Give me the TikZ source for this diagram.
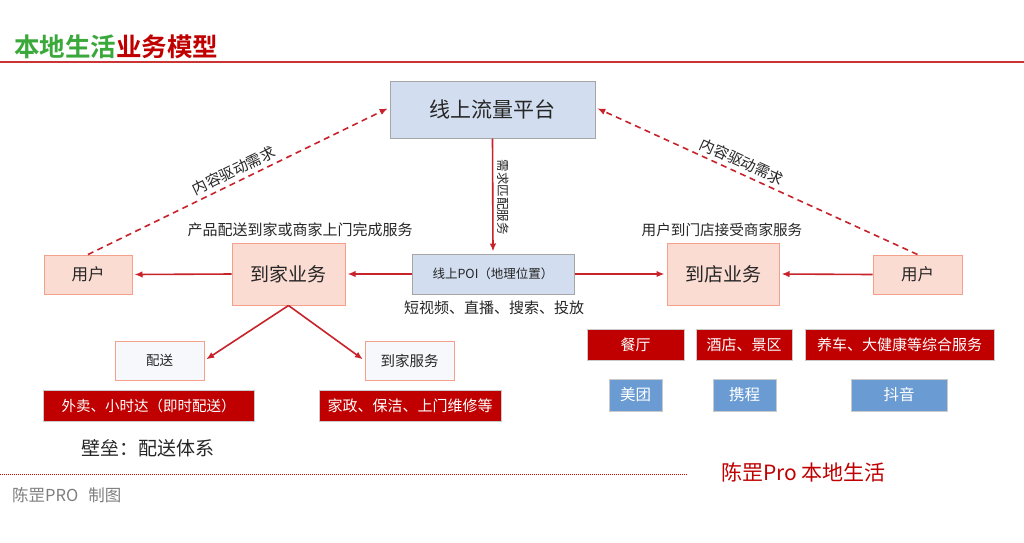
\documentclass[tikz,border=0pt]{standalone}
\usepackage{fontspec}
\setmainfont{Noto Sans CJK SC}[BoldFont={Noto Sans CJK SC Bold}]
\usetikzlibrary{arrows.meta}
\definecolor{titlegreen}{HTML}{3AA83A}
\definecolor{darkred}{HTML}{C00000}
\definecolor{linered}{HTML}{C8232B}
\definecolor{salmonfill}{HTML}{FBDCD3}
\definecolor{salmonline}{HTML}{F4A08A}
\definecolor{lightblue}{HTML}{D2DEEF}
\definecolor{boxgray}{HTML}{A6A6A6}
\definecolor{midblue}{HTML}{6A9BD3}
\definecolor{paleblue}{HTML}{F6F8FC}
\definecolor{txt}{HTML}{262626}
\definecolor{footgray}{HTML}{7F7F7F}
\tikzset{
  box/.style={draw, line width=1pt, inner sep=0pt, align=center, text=txt},
  bluebox/.style={box, fill=lightblue, draw=boxgray},
  salbox/.style={box, fill=salmonfill, draw=salmonline},
  palebox/.style={box, fill=paleblue, draw=salmonline},
  redbox/.style={box, fill=darkred, draw=boxgray!60, line width=0.8pt, text=white},
  midbox/.style={box, fill=midblue, draw=boxgray!60, line width=0.8pt, text=white},
  arr/.style={draw=linered, line width=1.6pt, -{Latex[length=8pt,width=6.5pt]}, shorten >=2pt},
  darr/.style={arr, dash pattern=on 6pt off 4.5pt},
  lbl/.style={text=txt, inner sep=1pt},
}
\begin{document}
\begin{tikzpicture}[x=1pt,y=-1pt]
\useasboundingbox (0,0) rectangle (1024,542);
\fill[white] (0,0) rectangle (1024,542);
% title
\node[anchor=west, inner sep=0pt, font=\fontsize{25.5}{28}\selectfont\bfseries] (title) at (14,47) {\textcolor{titlegreen}{本地生活}\textcolor{darkred}{业务模型}};
\draw[draw=red!75!black!80, line width=2pt] (0,62) -- (1024,62);
% main nodes
\node[bluebox, minimum width=205pt, minimum height=57pt, font=\fontsize{21}{24}\selectfont] (plat) at (492.5,109.5) {线上流量平台};
\node[bluebox, minimum width=162pt, minimum height=40pt, font=\fontsize{12.5}{14}\selectfont] (poi) at (493,274) {线上POI（地理位置）};
\node[salbox, minimum width=113pt, minimum height=62pt, font=\fontsize{19}{22}\selectfont] (home) at (288.5,274) {到家业务};
\node[salbox, minimum width=112pt, minimum height=62pt, font=\fontsize{19}{22}\selectfont] (store) at (723,274) {到店业务};
\node[salbox, minimum width=88pt, minimum height=39pt, font=\fontsize{16.5}{19}\selectfont] (userL) at (88,274.5) {用户};
\node[salbox, minimum width=89pt, minimum height=39pt, font=\fontsize{16.5}{19}\selectfont] (userR) at (917.5,274.5) {用户};
\node[palebox, minimum width=89pt, minimum height=39pt, font=\fontsize{13.5}{16}\selectfont] (ps) at (159.5,360.5) {配送};
\node[palebox, minimum width=89pt, minimum height=39pt, font=\fontsize{14.5}{16}\selectfont] (djfw) at (409.5,360.5) {到家服务};
\node[redbox, minimum width=211pt, minimum height=31pt, font=\fontsize{14.5}{16}\selectfont] (wm) at (148.5,405.5) {外卖、小时达（即时配送）};
\node[redbox, minimum width=182pt, minimum height=31pt, font=\fontsize{15}{17}\selectfont] (jz) at (410,405.5) {家政、保洁、上门维修等};
\node[redbox, minimum width=97pt, minimum height=31pt, font=\fontsize{15}{17}\selectfont] (ct) at (635.5,345) {餐厅};
\node[redbox, minimum width=96pt, minimum height=31pt, font=\fontsize{15}{17}\selectfont] (jd) at (744,345) {酒店、景区};
\node[redbox, minimum width=189pt, minimum height=31pt, font=\fontsize{15}{17}\selectfont] (yc) at (899.5,345) {养车、大健康等综合服务};
\node[midbox, minimum width=53pt, minimum height=32pt, font=\fontsize{15.5}{17}\selectfont] (mt) at (635.5,395) {美团};
\node[midbox, minimum width=63pt, minimum height=32pt, font=\fontsize{15.5}{17}\selectfont] (xc) at (744.5,395) {携程};
\node[midbox, minimum width=96pt, minimum height=32pt, font=\fontsize{15.5}{17}\selectfont] (dy) at (899,395) {抖音};
% labels
\node[lbl, font=\fontsize{15}{17}\selectfont] (lblhome) at (300,230) {产品配送到家或商家上门完成服务};
\node[lbl, font=\fontsize{14.6}{17}\selectfont] (lblstore) at (722,230) {用户到门店接受商家服务};
\node[lbl, font=\fontsize{15}{17}\selectfont] (lblpoi) at (494,308) {短视频、直播、搜索、投放};
\node[lbl, font=\fontsize{19}{22}\selectfont] (lblbar) at (148,448) {壁垒：配送体系};
\node[lbl, rotate=-90, font=\fontsize{12.5}{14}\selectfont] (lblmatch) at (503,197) {需求匹配服务};
% connectors
\draw[arr] (plat.south) -- (poi.north);
\draw[arr] (poi.west) -- (home.east);
\draw[arr] (home.west) -- (userL.east);
\draw[arr] (poi.east) -- (store.west);
\draw[arr] (userR.west) -- (store.east);
\draw[arr] (home.south) -- (ps.east);
\draw[arr] (home.south) -- (djfw.west);
\draw[darr] (userL.north) -- node[lbl, sloped, above=3pt, pos=0.5, font=\fontsize{15}{17}\selectfont] (lblL) {内容驱动需求} ([yshift=2pt]plat.west);
\draw[darr] (userR.north) -- node[lbl, sloped, above=3pt, pos=0.56, font=\fontsize{15}{17}\selectfont] (lblR) {内容驱动需求} ([yshift=2pt]plat.east);
% footer
\draw[draw=red!80!black, line width=1pt, dash pattern=on 1pt off 1pt] (0,474) -- (687,474);
\node[anchor=west, inner sep=0pt, text=darkred, font=\fontsize{21}{23}\selectfont] (brand) at (721,472) {陈罡Pro 本地生活};
\node[anchor=west, inner sep=0pt, text=footgray, font=\fontsize{16.5}{18}\selectfont] (credit) at (12,495) {陈罡PRO\hspace{0.6em}制图};
\end{tikzpicture}
\end{document}
